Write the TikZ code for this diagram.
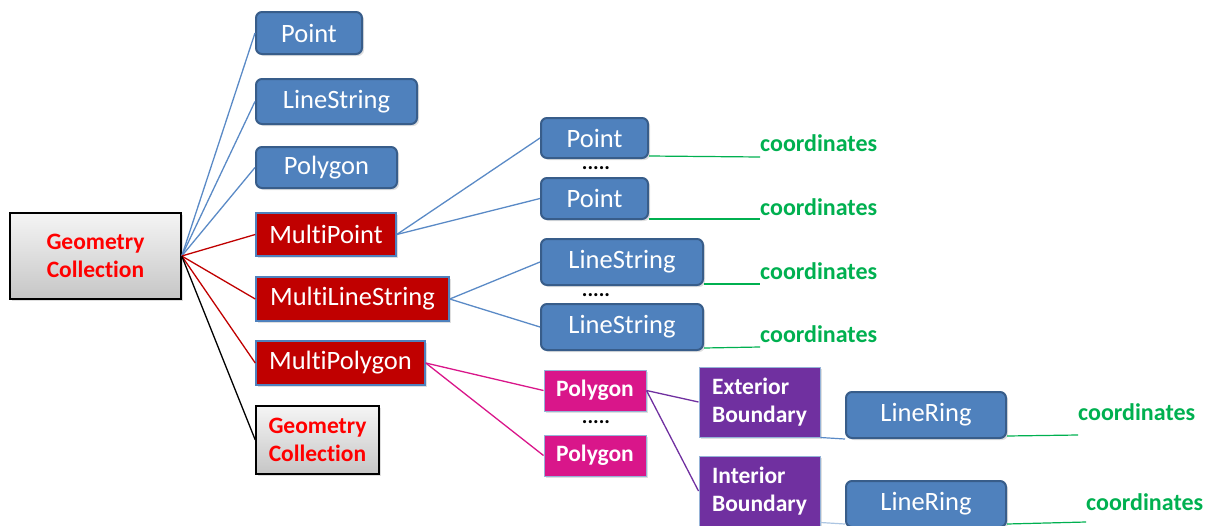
\documentclass[tikz,border=0pt]{standalone}
\usepackage{fontspec}
\setmainfont[Ligatures=NoCommon]{Carlito}
\usetikzlibrary{shadows,calc}
\definecolor{bfill}{HTML}{4F81BD}
\definecolor{bdraw}{HTML}{385D8A}
\definecolor{rfill}{HTML}{C00000}
\definecolor{mfill}{HTML}{D9168A}
\definecolor{pfill}{HTML}{7030A0}
\definecolor{gtext}{HTML}{00B050}
\definecolor{bline}{HTML}{5A8AC6}
\tikzset{
  base/.style={inner sep=0pt, align=center, drop shadow={opacity=0.25,shadow xshift=2pt,shadow yshift=-2pt}},
  bluebox/.style={base, fill=bfill, draw=bdraw, line width=2pt, rounded corners=6pt, text=white, font=\fontsize{26.5}{28}\selectfont},
  redbox/.style={base, fill=rfill, draw=bfill, line width=1.5pt, text=white, font=\fontsize{26.5}{28}\selectfont},
  gcbox/.style={base, top color=gray!8, bottom color=gray!45, draw=black, line width=1.5pt, text=red, font=\bfseries\fontsize{23.5}{27.5}\selectfont},
  magbox/.style={base, fill=mfill, draw=bfill!60, line width=1pt, text=white, font=\bfseries\fontsize{23.5}{26}\selectfont},
  purbox/.style={base, fill=pfill, draw=bfill!60, line width=1pt, text=white, align=left, font=\bfseries\fontsize{23.5}{28}\selectfont},
  coordlbl/.style={text=gtext, inner sep=0pt, anchor=base west, font=\bfseries\fontsize{24}{26}\selectfont},
  dotlbl/.style={inner sep=0pt, font=\bfseries\fontsize{21}{21}\selectfont},
  bl/.style={draw=bline, line width=1.3pt},
  rl/.style={draw=rfill, line width=1.3pt},
  ml/.style={draw=mfill, line width=1.3pt},
  pl/.style={draw=pfill, line width=1.3pt},
  kl/.style={draw=black, line width=1.3pt},
  gl/.style={draw=gtext, line width=1.2pt},
}
\begin{document}
\begin{tikzpicture}[x=1pt,y=-1pt]
\useasboundingbox (0,0) rectangle (1207,525);
% left column
\node[gcbox, minimum width=171pt, minimum height=86pt] (gc) at (95.5,256) {Geometry\\Collection};
\node[bluebox, minimum width=106pt, minimum height=42pt] (p1) at (309,33) {Point};
\node[bluebox, minimum width=161pt, minimum height=45pt] (ls1) at (336.5,101.5) {LineString};
\node[bluebox, minimum width=141pt, minimum height=41pt] (pg1) at (326.5,167.5) {Polygon};
\node[redbox, minimum width=140pt, minimum height=43pt] (mp) at (326,234.5) {MultiPoint};
\node[redbox, minimum width=193pt, minimum height=44pt] (mls) at (352.5,299) {MultiLineString};
\node[redbox, minimum width=169pt, minimum height=44pt] (mpg) at (340.5,363) {MultiPolygon};
\node[gcbox, minimum width=123pt, minimum height=68pt] (gc2) at (317.5,440) {Geometry\\Collection};
% middle column
\node[bluebox, minimum width=107pt, minimum height=40pt] (pt1) at (594.5,138) {Point};
\node[dotlbl] (d1) at (596,168) {.....};
\node[bluebox, minimum width=107pt, minimum height=41pt] (pt2) at (594.5,198.5) {Point};
\node[bluebox, minimum width=162pt, minimum height=46pt] (lsa) at (622,262) {LineString};
\node[dotlbl] (d2) at (596,295) {.....};
\node[bluebox, minimum width=162pt, minimum height=46pt] (lsb) at (622,327) {LineString};
\node[magbox, minimum width=102pt, minimum height=41pt] (pa) at (595,390.5) {Polygon};
\node[dotlbl] (d3) at (596,422) {.....};
\node[magbox, minimum width=102pt, minimum height=41pt] (pb) at (595,455.5) {Polygon};
% right
\node[purbox, minimum width=121pt, minimum height=70pt] (ext) at (759.5,402) {Exterior\\Boundary};
\node[purbox, minimum width=121pt, minimum height=70pt] (int) at (759.5,491) {Interior\\Boundary};
\node[bluebox, minimum width=160pt, minimum height=46pt] (lr1) at (926,415) {LineRing};
\node[bluebox, minimum width=160pt, minimum height=46pt] (lr2) at (926,504) {LineRing};
% coordinate labels
\node[coordlbl] (c1) at (760,151) {coordinates};
\node[coordlbl] (c2) at (760,215) {coordinates};
\node[coordlbl] (c3) at (760,279) {coordinates};
\node[coordlbl] (c4) at (760,342) {coordinates};
\node[coordlbl] (c5) at (1078,420) {coordinates};
\node[coordlbl] (c6) at (1086,510) {coordinates};
\coordinate (e1) at (760,157);
\coordinate (e2) at (760,219);
\coordinate (e3) at (760,284);
\coordinate (e4) at (760,347);
\coordinate (e5) at (1078,435);
\coordinate (e6) at (1086,522);
% connectors from gc
\draw[bl] (gc.east) -- (p1.west);
\draw[bl] (gc.east) -- (ls1.west);
\draw[bl] (gc.east) -- (pg1.west);
\draw[rl] (gc.east) -- (mp.west);
\draw[rl] (gc.east) -- (mls.west);
\draw[rl] (gc.east) -- (mpg.west);
\draw[kl] (gc.east) -- (gc2.west);
% second level
\draw[bl] (mp.east) -- (pt1.west);
\draw[bl] (mp.east) -- (pt2.west);
\draw[bl] (mls.east) -- (lsa.west);
\draw[bl] (mls.east) -- (lsb.west);
\draw[ml] (mpg.east) -- (pa.west);
\draw[ml] (mpg.east) -- (pb.west);
\draw[pl] (pa.east) -- (ext.west);
\draw[pl] (pa.east) -- (int.west);
\draw[draw=bline, line width=1.2pt] (ext.south east) -- (lr1.south west);
\draw[draw=bline!50, line width=1.2pt] ($(int.south east)+(0,-4)$) -- ($(lr2.south west)+(0,-4)$);
% green lines
\draw[gl] ($(pt1.south east)+(0,-3)$) -- (e1);
\draw[gl] ($(pt2.south east)+(0,-1)$) -- (e2);
\draw[gl] ($(lsa.south east)+(0,-2)$) -- (e3);
\draw[gl] ($(lsb.south east)+(0,-3)$) -- (e4);
\draw[gl] ($(lr1.south east)+(0,-3)$) -- (e5);
\draw[gl] ($(lr2.south east)+(0,-4)$) -- (e6);
\end{tikzpicture}
\end{document}
